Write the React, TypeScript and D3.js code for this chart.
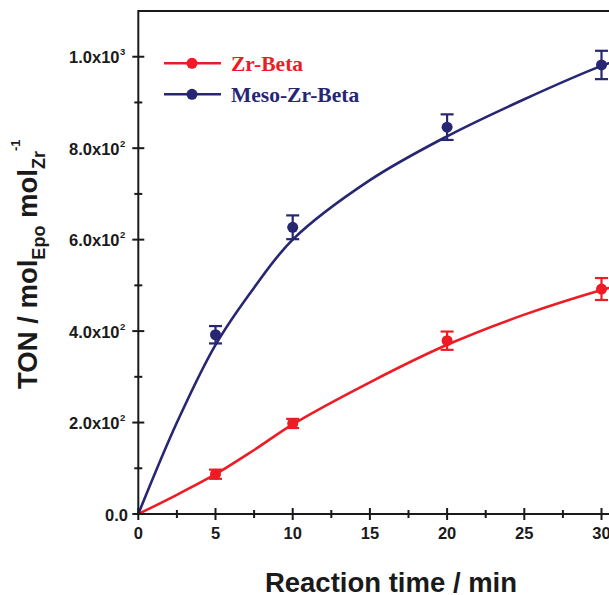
import * as d3 from 'd3';

// measured values
const timePoints = [5, 10, 20, 30];
const zrBeta = [87, 198, 379, 492];
const zrBetaErr = [10, 10, 20, 24];
const mesoZrBeta = [392, 627, 846, 982];
const mesoZrBetaErr = [19, 26, 28, 31];

// fitted curves
const fitTime = [0, 2.5, 5, 7.5, 10, 15, 20, 25, 30, 32];
const zrBetaFit = [0, 42, 87, 140, 196, 288, 370, 436, 490, 508];
const mesoZrBetaFit = [0, 200, 370, 495, 600, 730, 826, 907, 980, 1003];

const xTicks = [0, 5, 10, 15, 20, 25, 30];
const xMinorTicks = [2.5, 7.5, 12.5, 17.5, 22.5, 27.5];
const yTicks = [
  { v: 0, base: '0.0', exp: '' },
  { v: 200, base: '2.0x10', exp: '2' },
  { v: 400, base: '4.0x10', exp: '2' },
  { v: 600, base: '6.0x10', exp: '2' },
  { v: 800, base: '8.0x10', exp: '2' },
  { v: 1000, base: '1.0x10', exp: '3' },
];
const yMinorTicks = [100, 300, 500, 700, 900];

const RED = '#ed1c24';
const BLUE = '#262672';
const INK = '#1a1a1a';

export default function App() {
  const width = 609;
  const height = 595;
  const x = d3.scaleLinear().domain([0, 32]).range([138.3, 138.3 + 32 * 15.44]);
  const y = d3.scaleLinear().domain([0, 1100]).range([514, 11]);

  const line = d3.line<[number, number]>()
    .x(d => x(d[0]))
    .y(d => y(d[1]))
    .curve(d3.curveCatmullRom.alpha(0.5));

  const series = [
    { name: 'Zr-Beta', color: RED, vals: zrBeta, err: zrBetaErr, fit: zrBetaFit },
    { name: 'Meso-Zr-Beta', color: BLUE, vals: mesoZrBeta, err: mesoZrBetaErr, fit: mesoZrBetaFit },
  ];

  const sans = '"Liberation Sans", Arial, sans-serif';
  const serif = '"Liberation Serif", "DejaVu Serif", serif';

  return (
    <svg width={width} height={height} style={{ position: 'absolute', left: 0, top: 0, background: '#fff' }}>
      {/* fitted curves */}
      {series.map(s => (
        <path key={s.name + 'fit'}
          d={line(fitTime.map((t, i) => [t, s.fit[i]] as [number, number])) || ''}
          fill="none" stroke={s.color} strokeWidth={2.6} />
      ))}
      {/* error bars and points */}
      {series.map(s => (
        <g key={s.name + 'pts'} fill={s.color} stroke={s.color}>
          {timePoints.map((t, i) => (
            <g key={t}>
              <line x1={x(t)} x2={x(t)} y1={y(s.vals[i] - s.err[i])} y2={y(s.vals[i] + s.err[i])} strokeWidth={2.2} />
              <line x1={x(t) - 6.5} x2={x(t) + 6.5} y1={y(s.vals[i] - s.err[i])} y2={y(s.vals[i] - s.err[i])} strokeWidth={2.2} />
              <line x1={x(t) - 6.5} x2={x(t) + 6.5} y1={y(s.vals[i] + s.err[i])} y2={y(s.vals[i] + s.err[i])} strokeWidth={2.2} />
              <circle cx={x(t)} cy={y(s.vals[i])} r={5.5} stroke="none" />
            </g>
          ))}
        </g>
      ))}

      {/* frame */}
      <line x1={x(0)} x2={width} y1={y(1100)} y2={y(1100)} stroke={INK} strokeWidth={2} />
      <line x1={x(0)} x2={x(0)} y1={y(1100) - 1} y2={y(0)} stroke={INK} strokeWidth={2} />
      <line x1={x(0)} x2={width} y1={y(0)} y2={y(0)} stroke={INK} strokeWidth={2} />

      {/* x ticks */}
      {xTicks.map(t => (
        <g key={'xt' + t}>
          <line x1={x(t)} x2={x(t)} y1={y(0) - 6} y2={y(0) + 6} stroke={INK} strokeWidth={2} />
          <text x={x(t)} y={538.5} textAnchor="middle" fontFamily={sans} fontWeight="bold" fontSize={16.5} fill={INK}>{t}</text>
        </g>
      ))}
      {xMinorTicks.map(t => (
        <line key={'xm' + t} x1={x(t)} x2={x(t)} y1={y(0) - 4} y2={y(0) + 4} stroke={INK} strokeWidth={2} />
      ))}

      {/* y ticks */}
      {yTicks.map(t => (
        <g key={'yt' + t.v}>
          <line x1={x(0) - 6} x2={x(0) + 6} y1={y(t.v)} y2={y(t.v)} stroke={INK} strokeWidth={2} />
          <text x={t.exp ? 119.5 : 128} y={y(t.v) + 6.5} textAnchor="end" fontFamily={sans} fontWeight="bold" fontSize={16.5} fill={INK}>{t.base}</text>
          {t.exp && (
            <text x={120} y={y(t.v) - 1.5} fontFamily={sans} fontWeight="bold" fontSize={9.5} fill={INK}>{t.exp}</text>
          )}
        </g>
      ))}
      {yMinorTicks.map(v => (
        <line key={'ym' + v} x1={x(0) - 4} x2={x(0) + 4} y1={y(v)} y2={y(v)} stroke={INK} strokeWidth={2} />
      ))}

      {/* legend */}
      {series.map((s, i) => (
        <g key={s.name + 'leg'}>
          <line x1={164} x2={221} y1={63.3 + i * 31} y2={63.3 + i * 31} stroke={s.color} strokeWidth={2.6} />
          <circle cx={192} cy={63.3 + i * 31} r={5.5} fill={s.color} />
          <text x={231} y={70.5 + i * 31} fontFamily={serif} fontWeight="bold" fontSize={21.5} fill={s.color}>{s.name}</text>
        </g>
      ))}

      {/* axis titles */}
      <text x={391} y={592} textAnchor="middle" fontFamily={sans} fontWeight="bold" fontSize={27.5} fill={INK}>Reaction time / min</text>
      <text transform="translate(37,389) rotate(-90)" fontFamily={sans} fontWeight="bold" fontSize={27.5} fill={INK}>
        TON / mol<tspan fontSize={18} dy={8}>Epo</tspan>
        <tspan dy={-8}> mol</tspan>
        <tspan fontSize={18} dy={8}>Zr</tspan>
        <tspan fontSize={13} dy={-25}>-1</tspan>
      </text>
    </svg>
  );
}
